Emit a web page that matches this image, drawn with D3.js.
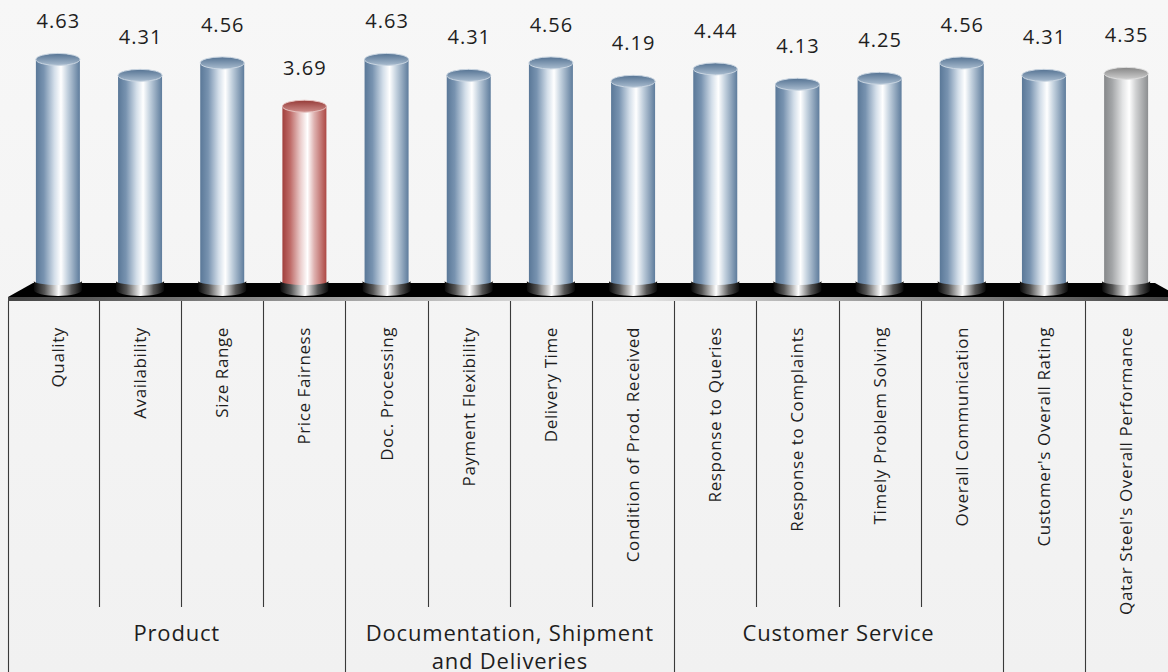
<!DOCTYPE html>
<html><head><meta charset="utf-8">
<script src="https://cdn.jsdelivr.net/npm/d3@7"></script>
<style>html,body{margin:0;padding:0;background:#f4f4f4;overflow:hidden}svg{display:block}</style>
</head><body><svg id="c" width="1168" height="672"></svg>
<script>
const categories = ["Quality","Availability","Size Range","Price Fairness","Doc. Processing","Payment Flexibility","Delivery Time","Condition of Prod. Received","Response to Queries","Response to Complaints","Timely Problem Solving","Overall Communication","Customer's Overall Rating","Qatar Steel's Overall Performance"];
const values = [4.63,4.31,4.56,3.69,4.63,4.31,4.56,4.19,4.44,4.13,4.25,4.56,4.31,4.35];
const groupNames = ["Product", ["Documentation, Shipment","and Deliveries"], "Customer Service", "", ""];
const groupSizes = [4,4,4,1,1];
const yDomain = [0, 5];

const W = 1168, H = 672;
const svg = d3.select("#c");
const defs = svg.append("defs");

// background
const bg = defs.append("linearGradient").attr("id","bg").attr("x1",0).attr("x2",0).attr("y1",0).attr("y2",1);
bg.append("stop").attr("offset","0%").attr("stop-color","#f7f7f7");
bg.append("stop").attr("offset","100%").attr("stop-color","#f1f1f1");
svg.append("rect").attr("width",W).attr("height",H).attr("fill","url(#bg)");

const x = d3.scaleBand().domain(categories).range([16.8, 1167.2]).padding(0);
const y = d3.scaleLinear().domain(yDomain).range([290, 41]);
const bw = x.bandwidth();
const barW = 44, rx = barW/2, ry = 6;

function hGrad(id, stops){
  const g = defs.append("linearGradient").attr("id",id).attr("x1",0).attr("x2",1).attr("y1",0).attr("y2",0);
  stops.forEach(s=>g.append("stop").attr("offset",s[0]).attr("stop-color",s[1]));
}
function vGrad(id, stops){
  const g = defs.append("linearGradient").attr("id",id).attr("x1",0).attr("x2",0).attr("y1",0).attr("y2",1);
  stops.forEach(s=>g.append("stop").attr("offset",s[0]).attr("stop-color",s[1]));
}
hGrad("body-blue",[["0%","#5a7898"],["18%","#7893b0"],["42%","#d3dee9"],["57%","#ffffff"],["72%","#c3d1de"],["100%","#5e7c9c"]]);
hGrad("body-red",[["0%","#a13f3c"],["18%","#bf6c69"],["42%","#ecd0cf"],["57%","#ffffff"],["72%","#dfb3b1"],["100%","#ad4844"]]);
hGrad("body-grey",[["0%","#86888a"],["18%","#a3a5a7"],["42%","#e3e4e5"],["57%","#ffffff"],["72%","#d0d1d2"],["100%","#8c8e90"]]);
vGrad("cap-blue",[["0%","#557393"],["100%","#a9bccf"]]);
vGrad("cap-red",[["0%","#953a37"],["100%","#cf8e8b"]]);
vGrad("cap-grey",[["0%","#858585"],["100%","#cfcfcf"]]);
hGrad("ring",[["0%","#0a0a0a"],["22%","#555"],["52%","#ffffff"],["78%","#555"],["100%","#0a0a0a"]]);
hGrad("strip",[["0%","#444"],["45%","#d8d8d8"],["55%","#e0e0e0"],["100%","#444"]]);

const base = y(0);
// floor
svg.append("path")
  .attr("d", `M8,${base+7} L33,${base-7} L1155,${base-7} L1180,${base+7} Z`)
  .attr("fill","#000");
svg.append("rect").attr("x",8).attr("y",base+7).attr("width",W-8).attr("height",4).attr("fill","url(#strip)");

// table lines
const tableTop = base + 11, innerBottom = 607;
const boundaries = [];
let acc = 0;
groupSizes.forEach((n,gi)=>{ acc += n; boundaries.push(acc); });
const lines = svg.append("g").attr("stroke","#3a3a3a").attr("stroke-width",1.1);
lines.append("line").attr("x1",8.5).attr("x2",8.5).attr("y1",tableTop).attr("y2",H);
categories.forEach((c,i)=>{
  if(i===0) return;
  const full = boundaries.includes(i);
  const xx = Math.round(x(c))+0.5;
  lines.append("line").attr("x1",xx).attr("x2",xx).attr("y1",tableTop).attr("y2",full?H:innerBottom);
});

// bars
const minVal = d3.min(values);
const data = categories.map((c,i)=>({c, v:values[i], i}));
function kind(d){ return d.i===categories.length-1 ? "grey" : (d.v===minVal ? "red" : "blue"); }
const bars = svg.append("g").selectAll("g").data(data).join("g");
bars.each(function(d){
  const g = d3.select(this);
  const cx = x(d.c) + bw/2;
  const yt = y(d.v);
  const k = kind(d);
  // body
  g.append("path")
    .attr("d", `M${cx-rx},${yt} L${cx-rx},${base-6} A${rx},${ry} 0 0 0 ${cx+rx},${base-6} L${cx+rx},${yt} Z`)
    .attr("fill",`url(#body-${k})`);
  // ring
  const rr = rx+2;
  g.append("path")
    .attr("d", `M${cx-rr},${base-9} L${cx-rr},${base} A${rr},${ry} 0 0 0 ${cx+rr},${base} L${cx+rr},${base-9} A${rr},${ry-2} 0 0 1 ${cx-rr},${base-9} Z`)
    .attr("fill","url(#ring)");
  // cap
  g.append("ellipse").attr("cx",cx).attr("cy",yt).attr("rx",rx).attr("ry",ry)
    .attr("fill",`url(#cap-${k})`).attr("stroke", k==="blue"?"#c9d5e1":(k==="red"?"#e6c2c0":"#dedede")).attr("stroke-width",1);
  // value label
  g.append("text").attr("x",cx+0.5).attr("y",yt-31).attr("text-anchor","middle")
    .attr("font-family","'Open Sans', sans-serif").attr("font-size",20).attr("letter-spacing","1px").attr("fill","#1e1e1e")
    .text(d3.format(".2f")(d.v));
});

// category labels
svg.append("g").selectAll("text").data(categories).join("text")
  .attr("transform", c=>`translate(${x(c)+bw/2},327) rotate(-90)`)
  .attr("text-anchor","end").attr("dy","0.35em")
  .attr("font-family","'Open Sans', sans-serif").attr("font-size",17).attr("letter-spacing","0.6px").attr("fill","#1e1e1e")
  .text(c=>c);

// group labels
let start = 0;
groupNames.forEach((name,gi)=>{
  const n = groupSizes[gi];
  const first = categories[start], last = categories[start+n-1];
  const left = start===0 ? 8 : x(first);
  const right = x(last)+bw;
  start += n;
  if(!name) return;
  const linesTxt = Array.isArray(name)?name:[name];
  linesTxt.forEach((s,li)=>{
    svg.append("text").attr("text-anchor","middle")
      .attr("font-family","'Open Sans', sans-serif").attr("font-size",22).attr("letter-spacing","0.8px").attr("fill","#1e1e1e")
      .attr("x",(left+right)/2).attr("y",641+li*28).text(s);
  });
});
</script></body></html>
